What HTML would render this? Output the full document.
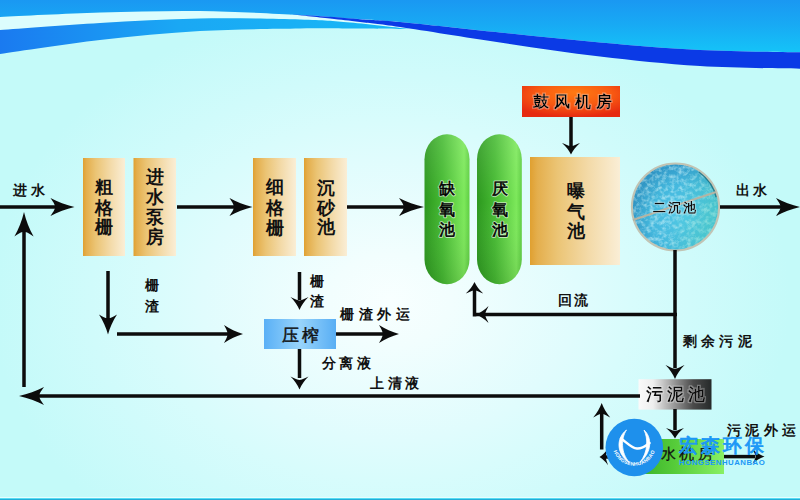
<!DOCTYPE html>
<html><head><meta charset="utf-8">
<style>
html,body{margin:0;padding:0;width:800px;height:500px;overflow:hidden;background:#d6fcfd;}
svg{display:block;font-family:"Liberation Sans",sans-serif;}
</style></head><body>
<svg width="800" height="500" viewBox="0 0 800 500">
<defs>
<radialGradient id="bg" cx="0" cy="0" r="1" gradientUnits="userSpaceOnUse" gradientTransform="translate(390,300) scale(400,300)">
<stop offset="0" stop-color="#f8ffff"/><stop offset="0.15" stop-color="#f2fefe"/><stop offset="0.47" stop-color="#e0fcfd"/><stop offset="0.6" stop-color="#d8fcfc"/><stop offset="0.75" stop-color="#d0fbfb"/><stop offset="1" stop-color="#c4faf9"/>
</radialGradient>
<linearGradient id="topg" x1="0" y1="0" x2="0" y2="55" gradientUnits="userSpaceOnUse">
<stop offset="0" stop-color="#1a98f2"/><stop offset="0.45" stop-color="#18aaf4"/><stop offset="1" stop-color="#14c6f8"/>
</linearGradient>
<linearGradient id="band2g" x1="0" y1="0" x2="400" y2="0" gradientUnits="userSpaceOnUse">
<stop offset="0" stop-color="#1a7af0"/><stop offset="0.45" stop-color="#1aa8f4"/><stop offset="1" stop-color="#18b8f6"/>
</linearGradient>
<linearGradient id="gold" x1="0" y1="0" x2="1" y2="0">
<stop offset="0" stop-color="#e0a030"/><stop offset="0.08" stop-color="#e4ae4c"/><stop offset="0.3" stop-color="#ebc474"/><stop offset="0.65" stop-color="#f3daa8"/><stop offset="1" stop-color="#faeed6"/>
</linearGradient>
<linearGradient id="green" x1="0" y1="0" x2="1" y2="0">
<stop offset="0" stop-color="#2c981e"/><stop offset="0.4" stop-color="#46ba32"/><stop offset="0.88" stop-color="#7ce85a"/><stop offset="1" stop-color="#5ece42"/>
</linearGradient>
<linearGradient id="greenshade" x1="0" y1="0" x2="0" y2="1">
<stop offset="0" stop-color="#fff" stop-opacity="0.12"/><stop offset="0.45" stop-color="#fff" stop-opacity="0"/><stop offset="1" stop-color="#000" stop-opacity="0.1"/>
</linearGradient>
<radialGradient id="red" cx="0.52" cy="0.3" r="0.7" fx="0.55" fy="0.2">
<stop offset="0" stop-color="#ff7a12"/><stop offset="0.55" stop-color="#f85a12"/><stop offset="1" stop-color="#e62a10"/>
</radialGradient>
<linearGradient id="blue" x1="0" y1="0" x2="1" y2="0">
<stop offset="0" stop-color="#5ab0f6"/><stop offset="0.5" stop-color="#98d4fb"/><stop offset="1" stop-color="#58aef4"/>
</linearGradient>
<linearGradient id="gray" x1="0" y1="0" x2="1" y2="0">
<stop offset="0" stop-color="#fafafa"/><stop offset="0.2" stop-color="#eeeeee"/><stop offset="0.45" stop-color="#a4a4a4"/><stop offset="0.75" stop-color="#4a4a4a"/><stop offset="1" stop-color="#262a2a"/>
</linearGradient>
<linearGradient id="green2" x1="0" y1="0" x2="1" y2="0">
<stop offset="0" stop-color="#30a822"/><stop offset="0.5" stop-color="#56cc3a"/><stop offset="1" stop-color="#88f064"/>
</linearGradient>
<radialGradient id="water" cx="0.6" cy="0.62" r="0.65">
<stop offset="0" stop-color="#52c8e8"/><stop offset="0.6" stop-color="#44b8de"/><stop offset="1" stop-color="#2e94c6"/>
</radialGradient>
<linearGradient id="aqua" x1="0" y1="0" x2="1" y2="0.3">
<stop offset="0" stop-color="#000" stop-opacity="0.06"/><stop offset="0.55" stop-color="#50d0c0" stop-opacity="0"/><stop offset="1" stop-color="#50d8b0" stop-opacity="0.35"/>
</linearGradient>
<clipPath id="cclip"><circle cx="675.5" cy="207" r="43"/></clipPath>
<filter id="speck" x="0" y="0" width="100%" height="100%">
<feTurbulence type="fractalNoise" baseFrequency="0.24" numOctaves="3" seed="11" result="n"/>
<feColorMatrix in="n" type="matrix" values="0 0 0 0 0.55  0 0 0 0 0.86  0 0 0 0 0.94  2.4 0 0 0 -0.95" />
</filter>
<filter id="halo" x="-20%" y="-20%" width="140%" height="140%">
<feMorphology operator="dilate" radius="0.9" in="SourceAlpha" result="d"/>
<feGaussianBlur in="d" stdDeviation="0.4" result="d"/>
<feFlood flood-color="#ffffff" flood-opacity="0.3"/>
<feComposite in2="d" operator="in" result="w"/>
<feMerge><feMergeNode in="w"/><feMergeNode in="SourceGraphic"/></feMerge>
</filter>
<path id="logoarc" d="M612.5,444 A21.8,21.8 0 0 0 656.1,444"/>
</defs>
<rect width="800" height="500" fill="url(#bg)"/>
<path d="M-10.0,18.0 C-8.3,17.8 -18.3,17.9 0.0,17.0 C18.3,16.1 66.7,13.5 100.0,12.5 C133.3,11.5 166.7,10.6 200.0,11.0 C233.3,11.4 275.0,13.8 300.0,15.0 C325.0,16.2 333.3,17.3 350.0,18.5 C366.7,19.7 391.7,21.4 400.0,22.0 L410,29 C400.0,27.9 368.3,24.1 350.0,22.5 C331.7,20.9 325.0,20.2 300.0,19.5 C275.0,18.8 233.3,17.9 200.0,18.5 C166.7,19.1 133.3,21.1 100.0,23.0 C66.7,24.9 18.3,28.8 0.0,30.0 C-18.3,31.2 -8.3,30.4 -10.0,30.5 Z" fill="#dcfdfd"/>
<path d="M-10.0,30.5 C-8.3,30.4 -18.3,31.2 0.0,30.0 C18.3,28.8 66.7,24.9 100.0,23.0 C133.3,21.1 166.7,19.1 200.0,18.5 C233.3,17.9 275.0,18.8 300.0,19.5 C325.0,20.2 331.7,20.9 350.0,22.5 C368.3,24.1 400.0,27.9 410.0,29.0 C400.0,28.9 368.3,28.6 350.0,28.5 C331.7,28.4 325.0,28.1 300.0,28.5 C275.0,28.9 233.3,29.1 200.0,31.0 C166.7,32.9 133.3,36.2 100.0,40.0 C66.7,43.8 18.3,51.3 0.0,54.0 C-18.3,56.7 -8.3,55.7 -10.0,56.0 Z" fill="url(#band2g)"/>
<path d="M-10,-5 L810,-5 L810,52.5 C791.7,52.1 735.0,51.7 700.0,50.0 C665.0,48.3 633.3,45.4 600.0,42.5 C566.7,39.6 533.3,35.9 500.0,32.5 C466.7,29.1 425.0,24.3 400.0,22.0 C375.0,19.7 366.7,19.7 350.0,18.5 C333.3,17.3 325.0,16.2 300.0,15.0 C275.0,13.8 233.3,11.4 200.0,11.0 C166.7,10.6 133.3,11.5 100.0,12.5 C66.7,13.5 18.3,16.1 0.0,17.0 C-18.3,17.9 -8.3,17.8 -10.0,18.0 Z" fill="url(#topg)"/>
<path d="M295.0,14.5 C300.8,14.9 319.2,16.0 330.0,16.8 C340.8,17.6 348.3,18.3 360.0,19.2 C371.7,20.1 376.7,19.8 400.0,22.0 C423.3,24.2 466.7,29.1 500.0,32.5 C533.3,35.9 566.7,39.6 600.0,42.5 C633.3,45.4 665.0,48.3 700.0,50.0 C735.0,51.7 791.7,52.1 810.0,52.5 L810,69 C791.7,68.5 735.0,68.1 700.0,66.0 C665.0,63.9 633.3,60.4 600.0,56.5 C566.7,52.6 533.3,47.4 500.0,42.5 C466.7,37.6 423.3,30.4 400.0,27.0 C376.7,23.6 371.7,23.4 360.0,22.0 C348.3,20.6 341.7,19.9 330.0,18.6 C318.3,17.3 296.7,15.0 290.0,14.3 Z" fill="#0b3ae6"/>
<rect x="0" y="497" width="800" height="1" fill="#e6feff"/><rect x="0" y="498" width="800" height="1" fill="#58dcf2"/><rect x="0" y="499" width="800" height="1" fill="#22acd8"/>

<rect x="83" y="158" width="42" height="98" fill="url(#gold)"/>
<rect x="133.5" y="158" width="42.5" height="98" fill="url(#gold)"/>
<rect x="253" y="158" width="43" height="98" fill="url(#gold)"/>
<rect x="304" y="158" width="43" height="98" fill="url(#gold)"/>
<rect x="530" y="157" width="90" height="108" fill="url(#gold)"/>
<rect x="424.5" y="134.3" width="45" height="149.9" rx="22.5" ry="25" fill="url(#green)"/>
<rect x="477" y="134.3" width="44.8" height="149.9" rx="22.4" ry="25" fill="url(#green)"/>
<rect x="424.5" y="134.3" width="45" height="149.9" rx="22.5" ry="25" fill="url(#greenshade)"/>
<rect x="477" y="134.3" width="44.8" height="149.9" rx="22.4" ry="25" fill="url(#greenshade)"/>
<rect x="522" y="86" width="98" height="31" fill="url(#red)"/>
<rect x="264" y="319" width="72" height="30" fill="url(#blue)"/>
<rect x="638.5" y="379.2" width="73" height="30.4" fill="url(#gray)"/>
<rect x="626" y="439" width="98" height="35" fill="url(#green2)"/>

<circle cx="675.5" cy="207" r="43.5" fill="url(#water)"/>
<g clip-path="url(#cclip)"><rect x="630" y="162" width="92" height="90" filter="url(#speck)" opacity="0.65"/></g>
<circle cx="675.5" cy="207" r="43" fill="url(#aqua)"/>
<path d="M699,171.5 A42,42 0 0 1 716.5,197" fill="none" stroke="#1a6a7a" stroke-width="2.2" opacity="0.8"/>
<circle cx="675.5" cy="207" r="43.6" fill="none" stroke="#c2c4b4" stroke-width="2"/>
<line x1="633" y1="220" x2="716" y2="192" stroke="#b4b4a4" stroke-width="2"/>

<g fill="#0c0c0c">
<rect x="0" y="205.25" width="60" height="3.5"/>
<path d="M0,0 C-8.40,-1.98 -16.80,-4.95 -24.00,-9.00 C-22.44,-6.48 -19.44,-2.97 -19.44,0 C-19.44,2.97 -22.44,6.48 -24.00,9.00 C-16.80,4.95 -8.40,1.98 0,0 Z" transform="translate(74.5,207) rotate(0)"/>
<rect x="177" y="205.25" width="63" height="3.5"/>
<path d="M0,0 C-8.05,-1.98 -16.10,-4.95 -23.00,-9.00 C-21.51,-6.48 -18.63,-2.97 -18.63,0 C-18.63,2.97 -21.51,6.48 -23.00,9.00 C-16.10,4.95 -8.05,1.98 0,0 Z" transform="translate(252.5,207) rotate(0)"/>
<rect x="347" y="205.25" width="63" height="3.5"/>
<path d="M0,0 C-8.75,-1.98 -17.50,-4.95 -25.00,-9.00 C-23.38,-6.48 -20.25,-2.97 -20.25,0 C-20.25,2.97 -23.38,6.48 -25.00,9.00 C-17.50,4.95 -8.75,1.98 0,0 Z" transform="translate(424,207) rotate(0)"/>
<rect x="720" y="205.25" width="65" height="3.5"/>
<path d="M0,0 C-8.40,-1.98 -16.80,-4.95 -24.00,-9.00 C-22.44,-6.48 -19.44,-2.97 -19.44,0 C-19.44,2.97 -22.44,6.48 -24.00,9.00 C-16.80,4.95 -8.40,1.98 0,0 Z" transform="translate(800,207) rotate(0)"/>
<rect x="569.25" y="117" width="3.5" height="29"/>
<path d="M0,0 C-4.02,-1.98 -8.05,-4.95 -11.50,-9.00 C-10.75,-6.48 -8.51,-2.97 -8.51,0 C-8.51,2.97 -10.75,6.48 -11.50,9.00 C-8.05,4.95 -4.02,1.98 0,0 Z" transform="translate(571,154.5) rotate(90)"/>
<rect x="22.25" y="225" width="3.5" height="162"/>
<path d="M0,0 C-8.57,-2.11 -17.15,-5.28 -24.50,-9.60 C-22.91,-6.91 -19.85,-3.17 -19.85,0 C-19.85,3.17 -22.91,6.91 -24.50,9.60 C-17.15,5.28 -8.57,2.11 0,0 Z" transform="translate(24,212) rotate(-90)"/>
<rect x="30" y="394.25" width="610" height="3.5"/>
<path d="M0,0 C-8.75,-1.98 -17.50,-4.95 -25.00,-9.00 C-23.38,-6.48 -20.25,-2.97 -20.25,0 C-20.25,2.97 -23.38,6.48 -25.00,9.00 C-17.50,4.95 -8.75,1.98 0,0 Z" transform="translate(19,396) rotate(180)"/>
<rect x="106.25" y="271" width="3.5" height="51"/>
<path d="M0,0 C-7.00,-1.98 -14.00,-4.95 -20.00,-9.00 C-18.70,-6.48 -16.20,-2.97 -16.20,0 C-16.20,2.97 -18.70,6.48 -20.00,9.00 C-14.00,4.95 -7.00,1.98 0,0 Z" transform="translate(108,334.5) rotate(90)"/>
<rect x="117" y="332.25" width="113" height="3.5"/>
<path d="M0,0 C-6.65,-1.98 -13.30,-4.95 -19.00,-9.00 C-17.77,-6.48 -15.39,-2.97 -15.39,0 C-15.39,2.97 -17.77,6.48 -19.00,9.00 C-13.30,4.95 -6.65,1.98 0,0 Z" transform="translate(243,334) rotate(0)"/>
<rect x="297.75" y="272" width="3.5" height="28"/>
<path d="M0,0 C-4.55,-1.98 -9.10,-4.95 -13.00,-9.00 C-12.16,-6.48 -9.62,-2.97 -9.62,0 C-9.62,2.97 -12.16,6.48 -13.00,9.00 C-9.10,4.95 -4.55,1.98 0,0 Z" transform="translate(299.5,310) rotate(90)"/>
<rect x="336" y="332.25" width="50" height="3.5"/>
<path d="M0,0 C-7.00,-1.98 -14.00,-4.95 -20.00,-9.00 C-18.70,-6.48 -16.20,-2.97 -16.20,0 C-16.20,2.97 -18.70,6.48 -20.00,9.00 C-14.00,4.95 -7.00,1.98 0,0 Z" transform="translate(399,334) rotate(0)"/>
<rect x="297.75" y="349" width="3.5" height="29"/>
<path d="M0,0 C-4.55,-1.98 -9.10,-4.95 -13.00,-9.00 C-12.16,-6.48 -9.62,-2.97 -9.62,0 C-9.62,2.97 -12.16,6.48 -13.00,9.00 C-9.10,4.95 -4.55,1.98 0,0 Z" transform="translate(299.5,389.5) rotate(90)"/>
<rect x="673.25" y="250" width="3.5" height="118"/>
<path d="M0,0 C-4.90,-2.09 -9.80,-5.23 -14.00,-9.50 C-13.09,-6.84 -10.36,-3.14 -10.36,0 C-10.36,3.14 -13.09,6.84 -14.00,9.50 C-9.80,5.23 -4.90,2.09 0,0 Z" transform="translate(675,379) rotate(90)"/>
<rect x="476" y="312.75" width="201" height="3.5"/>
<path d="M0,0 C-4.38,-1.87 -8.75,-4.68 -12.50,-8.50 C-11.69,-6.12 -9.25,-2.81 -9.25,0 C-9.25,2.81 -11.69,6.12 -12.50,8.50 C-8.75,4.68 -4.38,1.87 0,0 Z" transform="translate(476,314.5) rotate(180)"/>
<rect x="472.75" y="290" width="3.5" height="26.5"/>
<path d="M0,0 C-4.02,-1.91 -8.05,-4.79 -11.50,-8.70 C-10.75,-6.26 -8.51,-2.87 -8.51,0 C-8.51,2.87 -10.75,6.26 -11.50,8.70 C-8.05,4.79 -4.02,1.91 0,0 Z" transform="translate(474.5,282) rotate(-90)"/>
<rect x="673.25" y="409" width="3.5" height="21"/>
<path d="M0,0 C-3.67,-1.98 -7.35,-4.95 -10.50,-9.00 C-9.82,-6.48 -7.77,-2.97 -7.77,0 C-7.77,2.97 -9.82,6.48 -10.50,9.00 C-7.35,4.95 -3.67,1.98 0,0 Z" transform="translate(675,438.5) rotate(90)"/>
<rect x="724" y="454.85" width="31" height="3.5"/>
<path d="M0,0 C-4.20,-1.54 -8.40,-3.85 -12.00,-7.00 C-11.22,-5.04 -8.88,-2.31 -8.88,0 C-8.88,2.31 -11.22,5.04 -12.00,7.00 C-8.40,3.85 -4.20,1.54 0,0 Z" transform="translate(764.5,456.6) rotate(0)"/>
<rect x="599.95" y="410" width="3.5" height="39.5"/>
<path d="M0,0 C-5.07,-1.87 -10.15,-4.68 -14.50,-8.50 C-13.56,-6.12 -10.73,-2.81 -10.73,0 C-10.73,2.81 -13.56,6.12 -14.50,8.50 C-10.15,4.68 -5.07,1.87 0,0 Z" transform="translate(601.7,403) rotate(-90)"/>
<rect x="605" y="455.25" width="35" height="3.5"/>
<path d="M0,0 C-2.97,-1.80 -5.95,-4.51 -8.50,-8.20 C-7.95,-5.90 -6.29,-2.71 -6.29,0 C-6.29,2.71 -7.95,5.90 -8.50,8.20 C-5.95,4.51 -2.97,1.80 0,0 Z" transform="translate(599.5,457) rotate(180)"/>
</g>
<g>
<text x="104" y="193.1" text-anchor="middle" font-size="17.5" font-weight="bold" fill="#111" >粗</text>
<text x="104" y="213.8" text-anchor="middle" font-size="17.5" font-weight="bold" fill="#111" >格</text>
<text x="104" y="233.4" text-anchor="middle" font-size="17.5" font-weight="bold" fill="#111" >栅</text>
<text x="155" y="183.4" text-anchor="middle" font-size="17.5" font-weight="bold" fill="#111" >进</text>
<text x="155" y="203.4" text-anchor="middle" font-size="17.5" font-weight="bold" fill="#111" >水</text>
<text x="155" y="223.0" text-anchor="middle" font-size="17.5" font-weight="bold" fill="#111" >泵</text>
<text x="155" y="243.1" text-anchor="middle" font-size="17.5" font-weight="bold" fill="#111" >房</text>
<text x="274.5" y="193.2" text-anchor="middle" font-size="17.5" font-weight="bold" fill="#111" >细</text>
<text x="274.5" y="213.8" text-anchor="middle" font-size="17.5" font-weight="bold" fill="#111" >格</text>
<text x="274.5" y="233.8" text-anchor="middle" font-size="17.5" font-weight="bold" fill="#111" >栅</text>
<text x="326" y="193.8" text-anchor="middle" font-size="17.5" font-weight="bold" fill="#111" >沉</text>
<text x="326" y="213.8" text-anchor="middle" font-size="17.5" font-weight="bold" fill="#111" >砂</text>
<text x="326" y="233.4" text-anchor="middle" font-size="17.5" font-weight="bold" fill="#111" >池</text>
<text x="447" y="194.3" text-anchor="middle" font-size="16" font-weight="normal" fill="none" stroke="#fff" stroke-opacity="0.6" stroke-width="2.4" stroke-linejoin="round">缺</text>
<text x="447" y="194.3" text-anchor="middle" font-size="16" font-weight="normal" fill="#000" stroke="#000" stroke-width="0.55">缺</text>
<text x="447" y="214.8" text-anchor="middle" font-size="16" font-weight="normal" fill="none" stroke="#fff" stroke-opacity="0.6" stroke-width="2.4" stroke-linejoin="round">氧</text>
<text x="447" y="214.8" text-anchor="middle" font-size="16" font-weight="normal" fill="#000" stroke="#000" stroke-width="0.55">氧</text>
<text x="447" y="235.3" text-anchor="middle" font-size="16" font-weight="normal" fill="none" stroke="#fff" stroke-opacity="0.6" stroke-width="2.4" stroke-linejoin="round">池</text>
<text x="447" y="235.3" text-anchor="middle" font-size="16" font-weight="normal" fill="#000" stroke="#000" stroke-width="0.55">池</text>
<text x="499.5" y="194.3" text-anchor="middle" font-size="16" font-weight="normal" fill="none" stroke="#fff" stroke-opacity="0.6" stroke-width="2.4" stroke-linejoin="round">厌</text>
<text x="499.5" y="194.3" text-anchor="middle" font-size="16" font-weight="normal" fill="#000" stroke="#000" stroke-width="0.55">厌</text>
<text x="499.5" y="214.8" text-anchor="middle" font-size="16" font-weight="normal" fill="none" stroke="#fff" stroke-opacity="0.6" stroke-width="2.4" stroke-linejoin="round">氧</text>
<text x="499.5" y="214.8" text-anchor="middle" font-size="16" font-weight="normal" fill="#000" stroke="#000" stroke-width="0.55">氧</text>
<text x="499.5" y="235.3" text-anchor="middle" font-size="16" font-weight="normal" fill="none" stroke="#fff" stroke-opacity="0.6" stroke-width="2.4" stroke-linejoin="round">池</text>
<text x="499.5" y="235.3" text-anchor="middle" font-size="16" font-weight="normal" fill="#000" stroke="#000" stroke-width="0.55">池</text>
<text x="575.5" y="197.1" text-anchor="middle" font-size="17.5" font-weight="bold" fill="#111" >曝</text>
<text x="575.5" y="218.1" text-anchor="middle" font-size="17.5" font-weight="bold" fill="#111" >气</text>
<text x="575.5" y="236.8" text-anchor="middle" font-size="17.5" font-weight="bold" fill="#111" >池</text>
<text x="532.5" y="107.4" font-size="15.6" font-weight="bold" letter-spacing="5" fill="#000" filter="url(#halo)">鼓风机房</text>
<text x="13" y="195.0" font-size="14" font-weight="bold" letter-spacing="4" fill="#111" >进水</text>
<text x="735.5" y="194.5" font-size="14" font-weight="bold" letter-spacing="3" fill="#111" >出水</text>
<text x="653" y="211.7" font-size="13" font-weight="bold" letter-spacing="2" fill="#111" filter="url(#halo)">二沉池</text>
<text x="151.5" y="290.0" text-anchor="middle" font-size="14" font-weight="bold" fill="#111" >栅</text>
<text x="151.5" y="310.5" text-anchor="middle" font-size="14" font-weight="bold" fill="#111" >渣</text>
<text x="316.5" y="285.5" text-anchor="middle" font-size="14" font-weight="bold" fill="#111" >栅</text>
<text x="316.5" y="306.0" text-anchor="middle" font-size="14" font-weight="bold" fill="#111" >渣</text>
<text x="340" y="319.0" font-size="14" font-weight="bold" letter-spacing="4.6" fill="#111" >栅渣外运</text>
<text x="281.5" y="340.9" font-size="17" font-weight="normal" letter-spacing="3.6" fill="#111" stroke="#111" stroke-width="0.45">压榨</text>
<text x="321.5" y="367.5" font-size="14" font-weight="bold" letter-spacing="3.5" fill="#111" >分离液</text>
<text x="370" y="388.0" font-size="14" font-weight="bold" letter-spacing="3.5" fill="#111" >上清液</text>
<text x="558" y="305.0" font-size="14" font-weight="bold" letter-spacing="2" fill="#111" >回流</text>
<text x="683" y="345.5" font-size="14" font-weight="bold" letter-spacing="4.2" fill="#111" >剩余污泥</text>
<text x="646" y="400.2" font-size="16.5" font-weight="bold" letter-spacing="4" fill="#111" filter="url(#halo)">污泥池</text>
<text x="727" y="435.0" font-size="14" font-weight="bold" letter-spacing="4.3" fill="#111" >污泥外运</text>
<text x="642" y="459.4" font-size="15" font-weight="normal" letter-spacing="3.5" fill="#111" stroke="#111" stroke-width="0.3">脱水机房</text>
</g>

<g>
<circle cx="634.3" cy="447.5" r="28.8" fill="#1e90ec"/>
<path d="M626.5,430 C617,437 615,453 629.5,462.5 C620.5,453 621,438 626.5,430 Z" fill="#fff" stroke="#fff" stroke-width="0.8" stroke-linejoin="round"/>
<path d="M644,430 C652,437 652.5,452 639.8,462.5 C648.5,452 648,438 644,430 Z" fill="#fff" stroke="#fff" stroke-width="0.8" stroke-linejoin="round"/>
<path d="M621,438.5 C627,442.5 631,448 637,448.5 C642,449 645.5,446 649.5,443" fill="none" stroke="#fff" stroke-width="2.5" stroke-linecap="round"/>
<text font-size="5" font-weight="bold" fill="#fff" letter-spacing="0.2"><textPath href="#logoarc" startOffset="50%" text-anchor="middle">HONGSENHUANBAO</textPath></text>
<text x="678.5" y="452" font-size="18.8" fill="#1c98f6" letter-spacing="3.2" stroke="#1c98f6" stroke-width="0.9">宏森环保</text>
<text x="679" y="465" font-size="7.8" font-weight="bold" fill="#1c98f6" letter-spacing="0.5">HONGSENHUANBAO</text>
</g>
</svg>
</body></html>
